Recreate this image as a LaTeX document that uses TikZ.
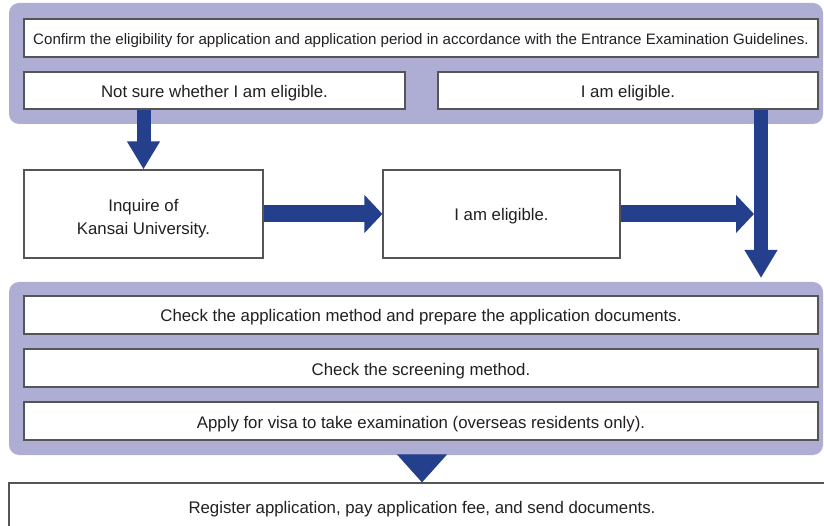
\documentclass[tikz,border=0pt]{standalone}
\usepackage{fontspec}
\setmainfont{Liberation Sans}
\usetikzlibrary{arrows.meta}
\definecolor{panelfill}{HTML}{AEAED4}
\definecolor{arrowblue}{HTML}{243F8C}
\definecolor{boxline}{HTML}{555555}
\definecolor{txt}{HTML}{231F20}
\tikzset{
  panelbox/.style={fill=panelfill, draw=none, rounded corners=10pt, inner sep=0pt},
  boxbase/.style={draw=boxline, line width=1.2pt, fill=white, inner sep=0pt, align=center,
    text=txt, font=\fontsize{16.8}{23}\selectfont},
  stepbox/.style={boxbase, text height=14pt, text depth=0pt},
  vflow/.style={draw=arrowblue, line width=14pt,
    -{Triangle[length=28pt,width=31pt]}, arrowblue},
  hflow/.style={draw=arrowblue, line width=17pt,
    -{Triangle[length=18pt,width=37pt]}, arrowblue},
  wideflow/.style={draw=arrowblue, line width=1pt,
    -{Triangle[length=28pt,width=50pt]}, arrowblue},
}
\begin{document}
\begin{tikzpicture}[x=1pt,y=-1pt]
\useasboundingbox (0,0) rectangle (824,526);
\clip (0,0) rectangle (824,526);
% top panel
\node[panelbox, minimum width=814pt, minimum height=121pt] (p1) at (416,63.5) {};
\node[stepbox, minimum width=794pt, minimum height=38pt, text height=13pt, font=\fontsize{15.1}{18}\selectfont] (top) at (421,38)
  {Confirm the eligibility for application and application period in accordance with the Entrance Examination Guidelines.};
\node[stepbox, minimum width=381pt, minimum height=37pt] (notsure) at (214.5,90.5) {Not sure whether I am eligible.};
\node[stepbox, minimum width=380pt, minimum height=37pt] (elig1) at (628,90.5) {I am eligible.};
% middle row
\node[boxbase, minimum width=239pt, minimum height=88pt] (inquire) at (143.5,214) {\rule{0pt}{22pt}Inquire of\\Kansai University.};
\node[stepbox, minimum width=237pt, minimum height=88pt] (mid) at (501.5,214) {I am eligible.};
\coordinate (join) at (754,214);
\coordinate (vend) at (761,278);
% bottom panel
\node[panelbox, minimum width=814pt, minimum height=173pt] (p2) at (416,368.5) {};
\node[stepbox, minimum width=794pt, minimum height=38pt] (b1) at (421,315) {Check the application method and prepare the application documents.};
\node[stepbox, minimum width=794pt, minimum height=38pt] (b2) at (421,368) {Check the screening method.};
\node[stepbox, minimum width=794pt, minimum height=38pt] (b3) at (421,421) {Apply for visa to take examination (overseas residents only).};
% final box
\node[stepbox, minimum width=826pt, minimum height=46pt] (final) at (422,506) {Register application, pay application fee, and send documents.};
% arrows
\draw[vflow] (inquire.north |- notsure.south) -- (inquire.north);
\draw[hflow] (inquire.east) -- (mid.west);
\draw[hflow] (mid.east) -- (join);
\draw[vflow] (elig1.south -| vend) -- (vend);
\draw[wideflow] (final.north |- p2.south) -- (final.north);
\end{tikzpicture}
\end{document}
